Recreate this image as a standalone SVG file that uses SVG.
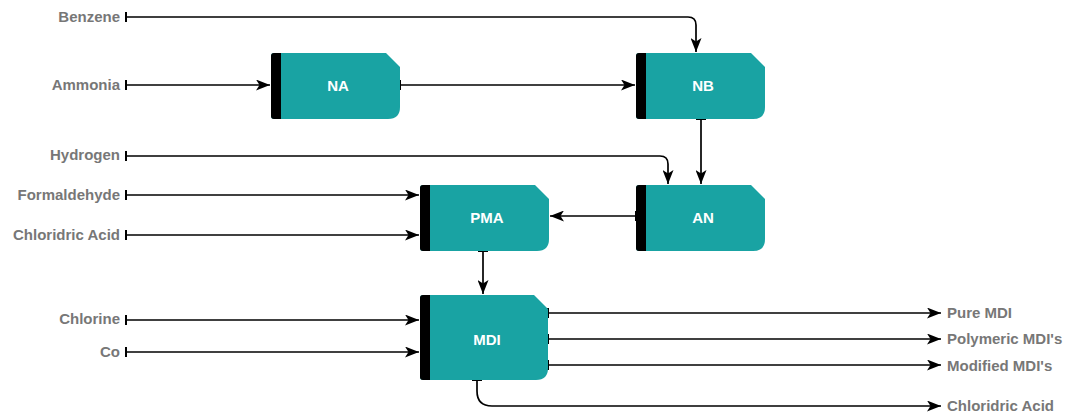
<svg xmlns="http://www.w3.org/2000/svg" width="1070" height="415" viewBox="0 0 1070 415">
<defs>
<marker id="arr" viewBox="0 0 14 11" refX="14" refY="5.5" markerWidth="14" markerHeight="11" markerUnits="userSpaceOnUse" orient="auto">
<path d="M0,0 L14,5.5 L0,11 L3.5,5.5 Z" fill="#000"/>
</marker>
<marker id="tick" viewBox="0 0 2 10" refX="1" refY="5" markerWidth="2" markerHeight="10" markerUnits="userSpaceOnUse" orient="auto">
<rect x="0" y="0" width="2" height="10" fill="#000"/>
</marker>
<path id="shape" d="M3,0 H115 L129,14 V54 Q129,66 117,66 H3 Q0,66 0,63 V3 Q0,0 3,0 Z"/>
</defs>
<style>
.body{fill:#19a3a3}
.bar{fill:#000}
.lbl{font-family:"Liberation Sans",Arial,sans-serif;font-weight:bold;font-size:15px;fill:#fff;text-anchor:middle}
.io{font-family:"Liberation Sans",Arial,sans-serif;font-weight:bold;font-size:15px;fill:#777}
.in{text-anchor:end}
.c{fill:none;stroke:#000;stroke-width:1.7;marker-start:url(#tick);marker-end:url(#arr)}
</style>
<rect width="1070" height="415" fill="#fff"/>
<g id="connectors">
<path class="c" d="M126,17 H688 Q696,17 696,25 V52"/>
<path class="c" d="M126,85 H270"/>
<path class="c" d="M400,85 H635"/>
<path class="c" d="M126,156 H660 Q668,156 668,164 V184"/>
<path class="c" d="M701,119 V184"/>
<path class="c" d="M636,216 H550"/>
<path class="c" d="M126,195 H419"/>
<path class="c" d="M126,235 H419"/>
<path class="c" d="M483,251 V294"/>
<path class="c" d="M126,320 H419"/>
<path class="c" d="M126,352 H419"/>
<path class="c" d="M548,313 H941"/>
<path class="c" d="M548,339 H941"/>
<path class="c" d="M548,365 H941"/>
<path class="c" d="M477,380 V391 Q477,406 492,406 H941"/>
</g>
<g id="NA">
<use href="#shape" class="body" transform="translate(271,53)"/>
<path class="bar" d="M274,53 H281 V119 H274 Q271,119 271,116 V56 Q271,53 274,53 Z"/>
<text class="lbl" x="338" y="91">NA</text>
</g>
<g id="NB">
<use href="#shape" class="body" transform="translate(636,53)"/>
<path class="bar" d="M639,53 H646 V119 H639 Q636,119 636,116 V56 Q636,53 639,53 Z"/>
<text class="lbl" x="703" y="91">NB</text>
</g>
<g id="AN">
<use href="#shape" class="body" transform="translate(636,185)"/>
<path class="bar" d="M639,185 H646 V251 H639 Q636,251 636,248 V188 Q636,185 639,185 Z"/>
<text class="lbl" x="703" y="223">AN</text>
</g>
<g id="PMA">
<use href="#shape" class="body" transform="translate(420,185)"/>
<path class="bar" d="M423,185 H430 V251 H423 Q420,251 420,248 V188 Q420,185 423,185 Z"/>
<text class="lbl" x="487" y="223">PMA</text>
</g>
<g id="MDI">
<path class="body" d="M423,295 H534 L548,309 V368 Q548,380 536,380 H423 Q420,380 420,377 V298 Q420,295 423,295 Z"/>
<path class="bar" d="M423,295 H430 V380 H423 Q420,380 420,377 V298 Q420,295 423,295 Z"/>
<text class="lbl" x="487" y="345">MDI</text>
</g>
<g id="labels">
<text class="io in" x="120" y="22">Benzene</text>
<text class="io in" x="120" y="90">Ammonia</text>
<text class="io in" x="120" y="160">Hydrogen</text>
<text class="io in" x="120" y="200">Formaldehyde</text>
<text class="io in" x="120" y="240">Chloridric Acid</text>
<text class="io in" x="120" y="324">Chlorine</text>
<text class="io in" x="120" y="357">Co</text>
<text class="io" x="947" y="318">Pure MDI</text>
<text class="io" x="947" y="344">Polymeric MDI's</text>
<text class="io" x="947" y="371">Modified MDI's</text>
<text class="io" x="947" y="411">Chloridric Acid</text>
</g>
</svg>
